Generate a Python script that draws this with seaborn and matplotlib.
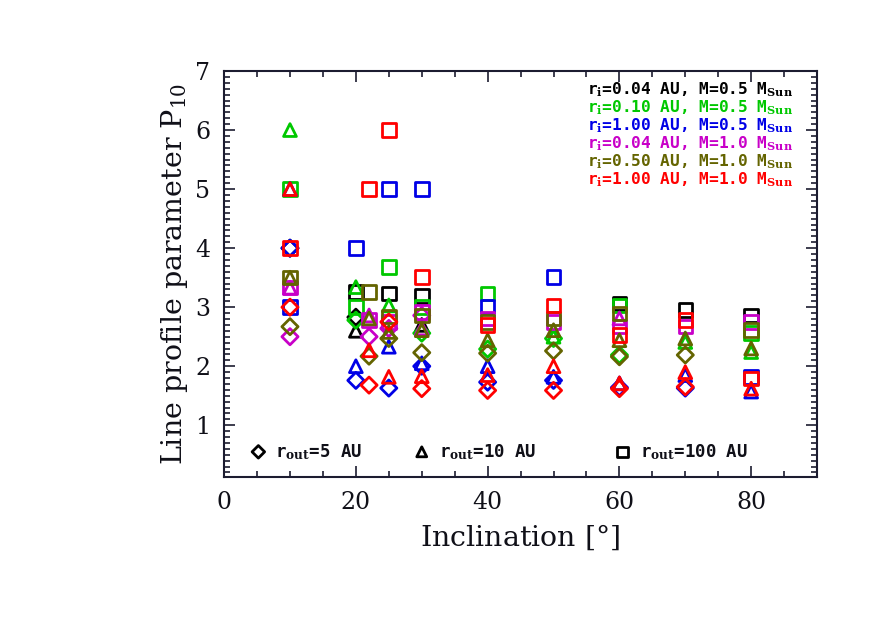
import numpy as np
import pandas as pd
import matplotlib
matplotlib.use("Agg")
import matplotlib.pyplot as plt
from matplotlib.ticker import MultipleLocator
import seaborn as sns

# P10 values per model (r_i, M) and outer radius (5, 10, 100 AU)
# each list: (inclination, P10)
black_5 = [(10, 4.0), (20, 2.83)]
black_10 = [(20, 2.60), (30, 2.70)]
black_100 = [(20, 3.26), (25, 3.23), (30, 3.19), (60, 3.06), (70, 2.95), (80, 2.86)]

green_5 = [(20, 2.78), (30, 2.56), (40, 2.29), (50, 2.47), (60, 2.19)]
green_10 = [(10, 6.0), (20, 3.34), (25, 3.03), (50, 2.50), (70, 2.41), (80, 2.24)]
green_100 = [(10, 5.0), (20, 3.0), (25, 3.68), (30, 3.0), (40, 3.23), (60, 3.03), (80, 2.56)]

blue_5 = [(10, 4.0), (20, 1.76), (25, 1.63), (30, 2.0), (40, 1.73), (50, 1.76), (60, 1.64), (70, 1.63)]
blue_10 = [(10, 5.0), (20, 2.0), (25, 2.33), (30, 2.05), (40, 2.0), (50, 1.82), (60, 1.71), (70, 1.85), (80, 1.57)]
blue_100 = [(10, 3.0), (20, 4.0), (25, 5.0), (30, 5.0), (40, 3.01), (50, 3.51), (80, 1.82)]

magenta_5 = [(10, 2.5), (22, 2.5), (25, 2.64), (30, 2.86)]
magenta_10 = [(10, 3.33), (22, 2.86), (30, 2.64), (60, 2.81)]
magenta_100 = [(10, 3.33), (22, 2.78), (25, 2.75), (30, 2.92), (40, 2.81), (50, 2.75), (60, 2.67), (70, 2.67), (80, 2.75)]

olive_5 = [(10, 2.67), (22, 2.17), (25, 2.47), (30, 2.23), (40, 2.22), (50, 2.26), (60, 2.16), (70, 2.19)]
olive_10 = [(10, 3.5), (22, 2.81), (25, 2.58), (30, 2.61), (40, 2.44), (50, 2.61), (60, 2.44), (70, 2.47), (80, 2.30)]
olive_100 = [(10, 3.5), (22, 3.26), (25, 2.84), (30, 2.86), (40, 2.75), (50, 2.81), (60, 2.89), (80, 2.61)]

red_5 = [(10, 3.0), (22, 1.68), (25, 2.75), (30, 1.62), (40, 1.59), (50, 1.59), (60, 1.62), (70, 1.65)]
red_10 = [(10, 5.0), (22, 2.27), (25, 1.82), (30, 1.83), (40, 1.85), (50, 2.0), (60, 1.71), (70, 1.90), (80, 1.62)]
red_100 = [(10, 4.0), (22, 5.0), (25, 6.0), (30, 3.51), (40, 2.70), (50, 3.03), (60, 2.53), (70, 2.78), (80, 1.79)]

models = ["r$_\\mathbf{i}$=0.04 AU, M=0.5 M$_\\mathbf{Sun}$",
          "r$_\\mathbf{i}$=0.10 AU, M=0.5 M$_\\mathbf{Sun}$",
          "r$_\\mathbf{i}$=1.00 AU, M=0.5 M$_\\mathbf{Sun}$",
          "r$_\\mathbf{i}$=0.04 AU, M=1.0 M$_\\mathbf{Sun}$",
          "r$_\\mathbf{i}$=0.50 AU, M=1.0 M$_\\mathbf{Sun}$",
          "r$_\\mathbf{i}$=1.00 AU, M=1.0 M$_\\mathbf{Sun}$"]
colors = ["#000000", "#00c800", "#0000e6", "#c800c8", "#646400", "#ff0000"]
series = [(black_5, black_10, black_100),
          (green_5, green_10, green_100),
          (blue_5, blue_10, blue_100),
          (magenta_5, magenta_10, magenta_100),
          (olive_5, olive_10, olive_100),
          (red_5, red_10, red_100)]
routs = [5, 10, 100]
markers = {5: "D", 10: "^", 100: "s"}
msize = {5: 68, 10: 85, 100: 95}

sns.set_style("ticks")
plt.rcParams["font.family"] = ["DejaVu Serif"]
plt.rcParams["mathtext.fontset"] = "dejavuserif"
plt.rcParams["text.color"] = "#101018"
plt.rcParams["axes.labelcolor"] = "#101018"

fig = plt.figure(figsize=(8.72, 6.23), dpi=100)
ax = fig.add_axes([0.257, 0.234, 0.68, 0.652])

for m, (label, col, sers) in enumerate(zip(models, colors, series)):
    for rout, pts in zip(routs, sers):
        df = pd.DataFrame(pts, columns=["incl", "p10"])
        sns.scatterplot(data=df, x="incl", y="p10", ax=ax, marker=markers[rout],
                        s=msize[rout], facecolor="none", edgecolor=col,
                        linewidth=2.0, legend=False, zorder=3)

ax.set_xlim(0, 90)
ax.set_ylim(0.12, 7)
ax.xaxis.set_major_locator(MultipleLocator(20))
ax.xaxis.set_minor_locator(MultipleLocator(5))
ax.yaxis.set_major_locator(MultipleLocator(1))
ax.yaxis.set_minor_locator(MultipleLocator(0.1))
ax.set_yticks([1, 2, 3, 4, 5, 6, 7])
ax.tick_params(which="both", direction="in", top=True, right=True,
               colors="#1c1c30", labelcolor="#101018", labelsize=17, width=1.2)
ax.tick_params(which="major", length=8, pad=10)
ax.tick_params(which="minor", length=4)
for sp in ax.spines.values():
    sp.set_color("#1c1c30")
    sp.set_linewidth(1.5)

ax.set_xlabel("Inclination [$\\degree$]", fontsize=20.5, labelpad=6)
ax.set_ylabel("Line profile parameter P$_{10}$", fontsize=20.5, labelpad=4)

# model legend (coloured text)
for k, (label, col) in enumerate(zip(models, colors)):
    ax.text(0.612, 0.955 - k * 0.0445, label, transform=ax.transAxes,
            color=col, fontsize=11.6, fontweight="bold", family="DejaVu Sans Mono",
            va="center", ha="left")

# outer radius legend
leg_x = [5.2, 30.0, 60.5]
leg_lab = ["r$_\\mathbf{out}$=5 AU", "r$_\\mathbf{out}$=10 AU", "r$_\\mathbf{out}$=100 AU"]
for xx, rout, lab in zip(leg_x, routs, leg_lab):
    ax.scatter([xx], [0.55], marker=markers[rout], s=msize[rout] * 0.6,
               facecolor="none", edgecolor="black", linewidth=2.0)
    ax.text(xx + 2.6, 0.55, lab, fontsize=12.5, fontweight="bold",
            family="DejaVu Sans Mono", va="center", ha="left")

fig.savefig("out.png", dpi=100)
